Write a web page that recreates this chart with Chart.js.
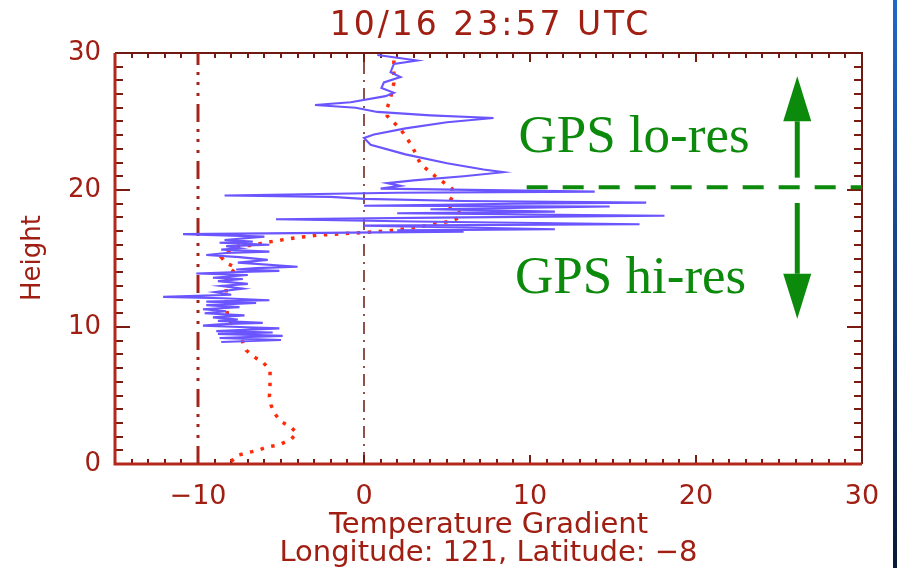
<!DOCTYPE html>
<html>
<head>
<meta charset="utf-8">
<title>10/16 23:57 UTC</title>
<script src="https://cdn.jsdelivr.net/npm/chart.js@4.4.1/dist/chart.umd.min.js"></script>
<style>
  body { margin: 0; background: #fff; }
  #wrap { position: relative; width: 897px; height: 568px; }
  #edge { position: absolute; right: 0; top: 0; width: 4px; height: 568px; background: linear-gradient(#2366c9, #0a1838); }
</style>
</head>
<body>
<div id="wrap">
  <canvas id="profile" width="897" height="568"></canvas>
  <div id="edge"></div>
</div>
<script>
// [gradient, height] pairs, top of the sounding first
const gpsProfile = [
  [0.8, 29.85], [3.2, 29.45], [1.8, 29.2], [1.6, 28.6], [2.2, 28.25], [1.2, 27.85], [1.05, 27.45],
  [1.8, 27.1], [1.3, 26.85], [-0.8, 26.4], [-2.95, 26.2], [-0.5, 26.0], [0.8, 25.7], [4, 25.45],
  [7.8, 25.25], [5, 24.95], [2.5, 24.5], [0.6, 24.05], [0.0, 23.8], [0.4, 23.3], [2.5, 22.6],
  [5, 21.95], [7.2, 21.5], [8.4, 21.3], [6, 21.0], [3, 20.7], [1.4, 20.5], [2.2, 20.3], [1.0, 20.1],
  [13.9, 19.88], [2, 19.8], [-8.4, 19.6], [-2, 19.5], [0, 19.35], [6, 19.2], [17.0, 19.08], [9, 19.0],
  [0, 18.85], [14.8, 18.8], [4, 18.6], [11.5, 18.42], [2, 18.3], [18.1, 18.12], [6, 18.0],
  [-5.3, 17.86], [3, 17.7], [16.6, 17.5], [0, 17.4], [11.5, 17.13], [2, 17.05], [6, 16.96],
  [-10.9, 16.78], [-6, 16.6], [-8.4, 16.35], [-6.7, 16.23], [-8.7, 16.15], [-5.7, 16.0], [-8.3, 15.9],
  [-7.5, 15.75], [-8.6, 15.65], [-5.7, 15.5], [-8.3, 15.4], [-9.5, 15.25], [-7.5, 15.1], [-5.8, 14.9],
  [-7.6, 14.7], [-4.0, 14.4], [-6.5, 14.3], [-7.7, 14.2], [-5.1, 14.1], [-8.0, 14.0], [-10.1, 13.9],
  [-7.0, 13.8], [-9.1, 13.6], [-7.3, 13.5], [-8.8, 13.35], [-7.0, 13.15], [-8.6, 13.0], [-7.3, 12.8],
  [-9.0, 12.55], [-8.0, 12.35], [-12.1, 12.2], [-8.5, 12.1], [-5.7, 11.95], [-9.5, 11.85], [-6.5, 11.75],
  [-9.5, 11.6], [-7.5, 11.45], [-9.7, 11.3], [-8.3, 11.15], [-9.6, 11.0], [-7.2, 10.85], [-9.1, 10.7],
  [-7.6, 10.55], [-8.8, 10.45], [-6.1, 10.3], [-8.7, 10.2], [-9.7, 10.1], [-7.5, 10.0], [-5.1, 9.9],
  [-8.9, 9.7], [-5.5, 9.6], [-8.8, 9.5], [-4.9, 9.35], [-8.7, 9.2], [-5.0, 9.05], [-8.6, 8.9]
];

// smoothed profile, from the ground up
const smoothProfile = [
  [-8.0, 0.17], [-7.7, 0.6], [-7.1, 0.8], [-6.4, 1.0], [-5.8, 1.25], [-5.1, 1.4], [-4.4, 1.8],
  [-4.05, 2.25], [-4.4, 2.7], [-5.0, 3.1], [-5.4, 3.7], [-5.6, 4.3], [-5.7, 4.9], [-5.66, 5.9],
  [-5.66, 6.85], [-6.1, 7.45], [-6.6, 7.8], [-7.1, 8.3], [-7.3, 8.9], [-7.6, 9.55], [-7.95, 10.15],
  [-8.2, 10.75], [-8.3, 11.5], [-8.3, 12.2], [-8.3, 13.4], [-7.95, 14.0], [-7.7, 14.35], [-8.3, 14.65],
  [-8.6, 15.1], [-8.2, 15.5], [-7.6, 15.9], [-6.9, 15.95], [-6.2, 16.1], [-5.5, 16.25], [-4.2, 16.5],
  [-2.8, 16.7], [-1.4, 16.8], [0, 16.9], [1.3, 17.0], [2.7, 17.2], [4.0, 17.45], [5.3, 17.75],
  [5.9, 18.1], [5.6, 18.6], [5.0, 18.9], [5.4, 19.6], [5.3, 20.1], [4.3, 21.0], [3.4, 21.9],
  [2.9, 23.2], [2.2, 24.45], [1.4, 25.4], [1.4, 26.0], [1.6, 26.7], [1.8, 27.8], [1.8, 29.6]
];

const gradientTicks = [-10, 0, 10, 20, 30];
const heightTicks = [0, 10, 20, 30];
const splitHeight = 20.2;   // lo-res / hi-res boundary
const splitFrom = 9.8;
const arrowX = 26.1;
const upArrow = [20.9, 28.3];
const downArrow = [19.05, 10.6];

const RED = '#a01e12';
const GREEN = '#0b8a0b';
const toPts = arr => arr.map(p => ({ x: p[0], y: p[1] }));

// IDL style box with inward ticks on all four sides
const idlFrame = {
  id: 'idlFrame',
  beforeDatasetsDraw(chart) {
    const { ctx, chartArea: a, scales: { x, y } } = chart;
    ctx.save();
    ctx.strokeStyle = '#7a1b12';
    ctx.lineWidth = 2;
    ctx.beginPath();
    for (let v = -15; v <= 30; v++) {
      const px = Math.round(x.getPixelForValue(v));
      const len = v % 10 === 0 ? 9 : 5;
      ctx.moveTo(px, a.bottom); ctx.lineTo(px, a.bottom - len);
      ctx.moveTo(px, a.top); ctx.lineTo(px, a.top + len);
    }
    for (let v = 0; v <= 30; v++) {
      const py = Math.round(y.getPixelForValue(v));
      const len = v % 10 === 0 ? 15 : 8;
      ctx.moveTo(a.left, py); ctx.lineTo(a.left + len, py);
      ctx.moveTo(a.right, py); ctx.lineTo(a.right - len, py);
    }
    ctx.stroke();

    ctx.strokeStyle = '#6e1a12';
    ctx.lineWidth = 2;
    ctx.beginPath();
    ctx.moveTo(a.left, a.top); ctx.lineTo(a.right, a.top); ctx.lineTo(a.right, a.bottom);
    ctx.stroke();
    ctx.strokeStyle = '#b3281b';
    ctx.lineWidth = 3;
    ctx.beginPath();
    ctx.moveTo(a.left, a.top); ctx.lineTo(a.left, a.bottom); ctx.lineTo(a.right, a.bottom);
    ctx.stroke();
    ctx.restore();
  },
  afterDraw(chart) {
    const { ctx, chartArea: a } = chart;
    const cx = (a.left + a.right) / 2;
    ctx.save();
    ctx.fillStyle = RED;
    ctx.textAlign = 'center';
    ctx.textBaseline = 'alphabetic';

    ctx.font = '33px "DejaVu Sans"';
    ctx.letterSpacing = '3px';
    ctx.fillText('10/16 23:57 UTC', cx + 2, 35);
    ctx.letterSpacing = '0px';

    ctx.font = '29px "DejaVu Sans"';
    ctx.fillText('Temperature Gradient', cx, 533);
    ctx.fillText('Longitude: 121, Latitude: \u22128', cx, 561);

    ctx.font = '26px "DejaVu Sans"';
    ctx.translate(33, 258);
    ctx.rotate(-Math.PI / 2);
    ctx.textBaseline = 'middle';
    ctx.fillText('Height', 0, 0);
    ctx.restore();
  }
};

// green lo-res / hi-res labels and arrows
const gpsNotes = {
  id: 'gpsNotes',
  afterDatasetsDraw(chart) {
    const { ctx, scales: { x, y } } = chart;
    ctx.save();
    ctx.fillStyle = GREEN;
    ctx.strokeStyle = GREEN;
    ctx.font = '53px "Liberation Serif"';
    ctx.textAlign = 'left';
    ctx.fillText('GPS lo-res', x.getPixelForValue(9.3), y.getPixelForValue(22.8));
    ctx.fillText('GPS hi-res', x.getPixelForValue(9.1), y.getPixelForValue(12.5));

    const px = x.getPixelForValue(arrowX);
    [upArrow, downArrow].forEach(([from, to]) => {
      const y0 = y.getPixelForValue(from);
      const y1 = y.getPixelForValue(to);
      const dir = Math.sign(y1 - y0);
      const head = 45, half = 14;
      ctx.lineWidth = 5;
      ctx.beginPath();
      ctx.moveTo(px, y0);
      ctx.lineTo(px, y1 - dir * head);
      ctx.stroke();
      ctx.beginPath();
      ctx.moveTo(px, y1);
      ctx.lineTo(px - half, y1 - dir * head);
      ctx.lineTo(px + half, y1 - dir * head);
      ctx.closePath();
      ctx.fill();
    });
    ctx.restore();
  }
};

const ctx = document.getElementById('profile');

new Chart(ctx, {
  type: 'scatter',
  data: {
    datasets: [
      {
        data: toPts(gpsProfile),
        showLine: true,
        borderColor: '#6a55ff',
        borderWidth: 2.1,
        pointRadius: 0
      },
      {
        data: toPts(smoothProfile),
        showLine: true,
        borderColor: '#ff2a0a',
        borderWidth: 3.5,
        borderDash: [3.5, 7.5],
        pointRadius: 0
      },
      {
        data: [{ x: -10, y: 0 }, { x: -10, y: 30 }],
        showLine: true,
        borderColor: '#a3241a',
        borderWidth: 3,
        borderDash: [18, 8, 3, 8, 3, 7, 3, 7],
        pointRadius: 0
      },
      {
        data: [{ x: 0, y: 0 }, { x: 0, y: 30 }],
        showLine: true,
        borderColor: '#6e1810',
        borderWidth: 1.5,
        borderDash: [12, 6, 2, 6],
        pointRadius: 0
      },
      {
        data: [{ x: splitFrom, y: splitHeight }, { x: 30, y: splitHeight }],
        showLine: true,
        borderColor: GREEN,
        borderWidth: 4,
        borderDash: [21, 15],
        pointRadius: 0
      }
    ]
  },
  options: {
    responsive: false,
    animation: false,
    layout: { padding: { left: 0, right: 35, top: 53, bottom: 0 } },
    plugins: { legend: { display: false }, tooltip: { enabled: false } },
    scales: {
      x: {
        type: 'linear',
        min: -15,
        max: 30,
        grid: { display: false },
        border: { display: false },
        afterBuildTicks: s => { s.ticks = gradientTicks.map(v => ({ value: v })); },
        afterFit: s => { s.height = 104; },
        ticks: {
          color: RED,
          maxRotation: 0,
          autoSkip: false,
          padding: 9,
          font: { family: 'DejaVu Sans', size: 27 },
          callback: v => String(v).replace('-', '\u2212')
        }
      },
      y: {
        type: 'linear',
        min: 0,
        max: 30,
        grid: { display: false },
        border: { display: false },
        afterBuildTicks: s => { s.ticks = heightTicks.map(v => ({ value: v })); },
        afterFit: s => { s.width = 115; },
        ticks: {
          color: RED,
          padding: 6,
          font: { family: 'DejaVu Sans', size: 26 }
        }
      }
    }
  },
  plugins: [idlFrame, gpsNotes]
});
</script>
</body>
</html>
